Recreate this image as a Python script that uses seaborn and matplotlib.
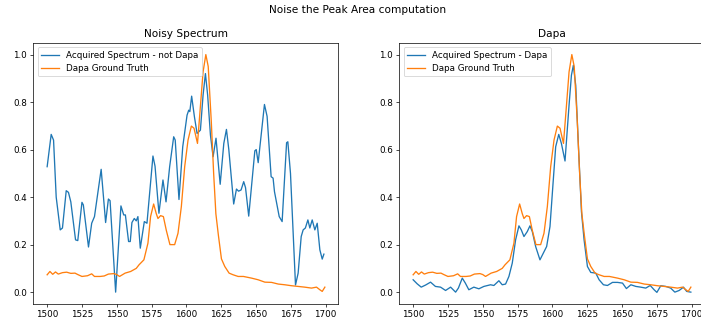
import matplotlib
matplotlib.use("Agg")
import pandas as pd
import matplotlib.pyplot as plt
import seaborn as sns

# --- data ---
GT_X = [1500, 1502, 1504, 1506, 1508, 1511, 1514, 1517, 1520, 1522,
        1525, 1529, 1532, 1534, 1538, 1541, 1544, 1548, 1550, 1552,
        1556, 1560, 1564, 1566, 1569.5, 1572.4, 1574.3, 1576.5, 1578.4, 1579.6,
        1581.5, 1583.5, 1585.6, 1588.2, 1591.6, 1594, 1596.4, 1598.8, 1601.2, 1603.6,
        1605.5, 1608, 1609.8, 1612, 1614, 1615.7, 1617.9, 1619.6, 1621.2, 1623,
        1625.2, 1627.6, 1630.7, 1633.6, 1637.2, 1641, 1646.8, 1651.6, 1656.4, 1661.2,
        1666, 1670.7, 1675.5, 1680.3, 1685, 1689.9, 1693.5, 1695.9, 1697.6, 1699.5]
GT_Y = [0.073, 0.087, 0.075, 0.085, 0.076, 0.082, 0.084, 0.079, 0.080, 0.074,
        0.066, 0.069, 0.077, 0.066, 0.066, 0.068, 0.076, 0.078, 0.074, 0.066,
        0.080, 0.087, 0.100, 0.115, 0.136, 0.206, 0.318, 0.371, 0.330, 0.310,
        0.322, 0.318, 0.260, 0.200, 0.200, 0.248, 0.360, 0.528, 0.640, 0.699,
        0.690, 0.626, 0.760, 0.927, 1.000, 0.950, 0.720, 0.500, 0.330, 0.240,
        0.140, 0.108, 0.080, 0.073, 0.066, 0.066, 0.059, 0.052, 0.042, 0.041,
        0.034, 0.031, 0.027, 0.024, 0.021, 0.017, 0.021, 0.010, 0.003, 0.021]

NOISY_X = [1500, 1502.9, 1504.6, 1506.5, 1509.4, 1511, 1513.7, 1515.3, 1517, 1520.4,
           1522, 1525, 1526, 1529.7, 1532, 1534, 1538.8, 1542, 1544, 1545.2,
           1549.2, 1553, 1555, 1556.2, 1558.5, 1559.7, 1560.9, 1562.6, 1564, 1565.2,
           1566.9, 1569.8, 1571.7, 1576, 1577.5, 1580.3, 1583.2, 1585.4, 1588, 1590.9,
           1592, 1594.7, 1597.4, 1600.5, 1601.7, 1602.5, 1603.8, 1605.8, 1607.7, 1610.1,
           1612, 1613.7, 1615.3, 1617.3, 1619.2, 1621.3, 1624.3, 1626.9, 1628.8, 1630.5,
           1634, 1636, 1637.5, 1639.3, 1641.2, 1642.5, 1644.8, 1649.2, 1650.2, 1651.6,
           1656.1, 1658, 1660.9, 1662.3, 1663.3, 1666.7, 1668.8, 1672, 1672.9, 1674.8,
           1678.4, 1680.3, 1682.5, 1683.9, 1685.5, 1687.3, 1688.7, 1690.4, 1692.3, 1694,
           1695.9, 1697.6, 1698.8]
NOISY_Y = [0.528, 0.664, 0.640, 0.400, 0.262, 0.270, 0.427, 0.420, 0.380, 0.220,
           0.217, 0.378, 0.367, 0.190, 0.290, 0.318, 0.517, 0.293, 0.392, 0.385,
           0.000, 0.363, 0.325, 0.325, 0.213, 0.213, 0.293, 0.310, 0.300, 0.318,
           0.185, 0.297, 0.290, 0.573, 0.530, 0.332, 0.472, 0.380, 0.528, 0.654,
           0.640, 0.390, 0.612, 0.745, 0.766, 0.760, 0.825, 0.738, 0.668, 0.682,
           0.829, 0.920, 0.829, 0.661, 0.570, 0.648, 0.454, 0.626, 0.685, 0.600,
           0.371, 0.434, 0.425, 0.430, 0.465, 0.440, 0.320, 0.595, 0.600, 0.545,
           0.790, 0.740, 0.486, 0.480, 0.423, 0.318, 0.297, 0.629, 0.633, 0.500,
           0.030, 0.080, 0.234, 0.262, 0.270, 0.304, 0.270, 0.304, 0.262, 0.290,
           0.178, 0.139, 0.160]

DAPA_X = [1500, 1502.9, 1505.8, 1509, 1512.5, 1516, 1519.7, 1523.3, 1526.9, 1530.5,
          1532.5, 1535.3, 1537.5, 1540, 1543.6, 1547.2, 1550.8, 1555.6, 1558, 1561.6,
          1564, 1566.4, 1568.8, 1571.2, 1573.6, 1576, 1577.7, 1579.6, 1582, 1583.9,
          1585.6, 1588, 1591.1, 1593.5, 1595.9, 1598.3, 1600.5, 1602.4, 1604.6, 1606.5,
          1609.1, 1612, 1613.7, 1615.1, 1616.8, 1618.7, 1620.9, 1622.8, 1625.2, 1627.6,
          1631.2, 1633.6, 1636.7, 1639.6, 1643.2, 1646.8, 1650.4, 1653.2, 1656.4, 1660,
          1663.5, 1667.1, 1670.3, 1673.1, 1675.1, 1677.9, 1681.5, 1685, 1688, 1691.1,
          1694.2, 1696.5, 1699.5]
DAPA_Y = [0.052, 0.035, 0.021, 0.030, 0.042, 0.024, 0.021, 0.007, 0.021, 0.000,
          0.017, 0.059, 0.038, 0.010, 0.021, 0.014, 0.024, 0.031, 0.028, 0.048,
          0.031, 0.034, 0.066, 0.122, 0.220, 0.279, 0.262, 0.234, 0.255, 0.279,
          0.255, 0.192, 0.136, 0.164, 0.192, 0.276, 0.458, 0.612, 0.664, 0.626,
          0.552, 0.787, 0.913, 0.955, 0.870, 0.620, 0.339, 0.220, 0.108, 0.083,
          0.080, 0.052, 0.031, 0.028, 0.041, 0.041, 0.038, 0.015, 0.031, 0.024,
          0.021, 0.017, 0.028, 0.010, -0.001, 0.027, 0.024, 0.017, 0.000, 0.007,
          0.021, 0.003, 0.000]

BLUE = "#1f77b4"
ORANGE = "#ff7f0e"

# original looks like matplotlib defaults saved at a low dpi
DPI = 63
fig = plt.figure(figsize=(701 / DPI, 323 / DPI), dpi=DPI)
ax1 = fig.add_axes([0.0475, 0.0588, 0.4347, 0.809])
ax2 = fig.add_axes([0.5696, 0.0588, 0.4347, 0.809])

gt = pd.DataFrame({"x": GT_X, "y": GT_Y})
noisy = pd.DataFrame({"x": NOISY_X, "y": NOISY_Y})
dapa = pd.DataFrame({"x": DAPA_X, "y": DAPA_Y})

sns.lineplot(data=noisy, x="x", y="y", color=BLUE, estimator=None,
             label="Acquired Spectrum - not Dapa", ax=ax1)
sns.lineplot(data=gt, x="x", y="y", color=ORANGE, estimator=None,
             label="Dapa Ground Truth", ax=ax1)
ax1.set_title("Noisy Spectrum")

sns.lineplot(data=dapa, x="x", y="y", color=BLUE, estimator=None,
             label="Acquired Spectrum - Dapa", ax=ax2)
sns.lineplot(data=gt, x="x", y="y", color=ORANGE, estimator=None,
             label="Dapa Ground Truth", ax=ax2)
ax2.set_title("Dapa")

for ax in (ax1, ax2):
    ax.set_xlabel("")
    ax.set_ylabel("")
    ax.set_xlim(1490.05, 1708.95)
    ax.set_ylim(-0.05, 1.05)
    ax.set_xticks(range(1500, 1701, 25))
    ax.legend(loc="upper left")

fig.suptitle("Noise the Peak Area computation", x=0.5103, y=0.985)

fig.savefig("out.png", dpi=DPI)
